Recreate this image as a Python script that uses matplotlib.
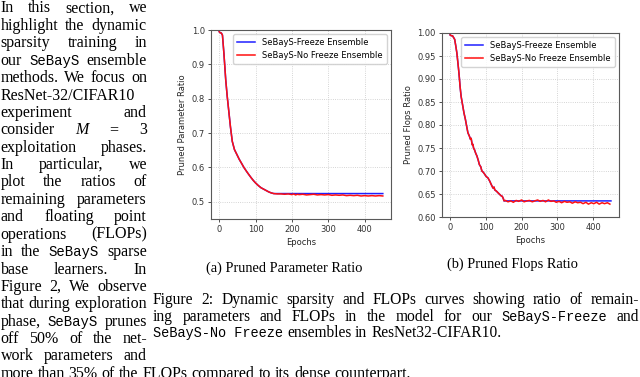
import matplotlib
matplotlib.use('Agg')
import matplotlib.pyplot as plt
from matplotlib.font_manager import FontProperties

# ---------------- data ----------------
epoch_ticks = [0, 100, 200, 300, 400]
param_yticks = [0.5, 0.6, 0.7, 0.8, 0.9, 1.0]
flops_yticks = [0.60, 0.65, 0.70, 0.75, 0.80, 0.85, 0.90, 0.95, 1.00]
legend_labels = ['SeBayS-Freeze Ensemble', 'SeBayS-No Freeze Ensemble']

# exploration phase (shared by both ensembles)
param_epochs_early = [0, 3, 6, 9, 13, 18, 22, 27, 31, 36, 42, 49, 55, 61, 68, 75, 81, 88,
                      94, 100, 108, 115, 122, 129, 136, 143, 150]
param_early = [0.995, 0.992, 0.991, 0.985, 0.932, 0.855, 0.808, 0.758, 0.718, 0.676, 0.652,
               0.637, 0.624, 0.613, 0.600, 0.589, 0.580, 0.570, 0.562, 0.555, 0.547, 0.541,
               0.537, 0.533, 0.529, 0.526, 0.524]
param_freeze_epochs = [150, 450]
param_freeze = [0.524, 0.524]
param_nofreeze_epochs = [150, 160, 170, 180, 190, 200, 205, 210, 215, 220, 230, 240, 250, 260,
                         270, 280, 290, 300, 310, 320, 330, 340, 350, 360, 370, 380, 390, 400,
                         410, 420, 430, 440, 450]
param_nofreeze = [0.524, 0.523, 0.523, 0.522, 0.523, 0.521, 0.523, 0.520, 0.522, 0.521, 0.522,
                  0.520, 0.521, 0.522, 0.520, 0.521, 0.520, 0.521, 0.519, 0.520, 0.519, 0.520,
                  0.518, 0.519, 0.518, 0.519, 0.517, 0.518, 0.517, 0.518, 0.517, 0.518, 0.517]

flops_epochs_early = [0, 4, 7, 10, 13, 16, 19, 22, 24, 26, 28, 31, 35, 39, 43, 47, 50, 54, 57,
                      59, 62, 64, 66, 68, 72, 75, 79, 82, 86, 89, 92, 96, 101, 106, 111, 115,
                      120, 123, 125, 130, 135, 139, 143, 146, 149, 151]
flops_early = [0.996, 0.994, 0.994, 0.990, 0.986, 0.972, 0.957, 0.935, 0.920, 0.903, 0.884,
               0.862, 0.844, 0.826, 0.812, 0.795, 0.783, 0.776, 0.769, 0.771, 0.757, 0.758,
               0.749, 0.747, 0.738, 0.733, 0.723, 0.714, 0.709, 0.700, 0.698, 0.694, 0.688,
               0.685, 0.678, 0.671, 0.663, 0.665, 0.659, 0.656, 0.652, 0.649, 0.646, 0.645,
               0.640, 0.635]
flops_freeze_epochs = [151, 450]
flops_freeze = [0.635, 0.635]
flops_nofreeze_epochs = [151, 155, 162, 170, 177, 185, 192, 200, 207, 215, 222, 230, 237, 245,
                         252, 260, 267, 275, 282, 290, 297, 305, 312, 320, 327, 335, 342, 350,
                         357, 365, 372, 380, 387, 395, 402, 410, 417, 425, 432, 440, 447]
flops_nofreeze = [0.635, 0.636, 0.633, 0.635, 0.632, 0.636, 0.634, 0.637, 0.633, 0.635, 0.636,
                  0.633, 0.635, 0.637, 0.634, 0.636, 0.633, 0.637, 0.634, 0.635, 0.632, 0.634,
                  0.631, 0.634, 0.632, 0.633, 0.630, 0.633, 0.631, 0.632, 0.629, 0.632, 0.628,
                  0.631, 0.629, 0.632, 0.628, 0.631, 0.629, 0.631, 0.628]

# ---------------- text ----------------
J = 147  # right edge of the justified left column (px)
body_lines = [
    ("In this section, we", J),
    ("highlight the dynamic", J),
    ("sparsity training in", J),
    ("our |SeBayS| ensemble", J),
    ("methods. We focus on", J),
    ("ResNet-32/CIFAR10", None),
    ("experiment and", J),
    ("consider ~M~ = 3", J),
    ("exploitation phases.", J),
    ("In particular, we", J),
    ("plot the ratios of", J),
    ("remaining parameters", J),
    ("and floating point", J),
    ("operations (FLOPs)", J),
    ("in the |SeBayS| sparse", J),
    ("base learners. In", J),
    ("Figure 2, We observe", J),
    ("that during exploration", J),
    ("phase, |SeBayS| prunes", J),
    ("off 50% of the net-", J),
    ("work parameters and", J),
    ("more than 35% of the FLOPs compared to its dense counterpart.", None),
]
caption_lines = [
    ("Figure 2: Dynamic sparsity and FLOPs curves showing ratio of remain-", 639),
    ("ing parameters and FLOPs in the model for our |SeBayS-Freeze| and", 639),
    ("|SeBayS-No Freeze| ensembles in ResNet32-CIFAR10.", None),
]
sub_a = "(a) Pruned Parameter Ratio"
sub_b = "(b) Pruned Flops Ratio"

# ---------------- figure ----------------
W, H = 640, 377
fig = plt.figure(figsize=(6.4, 3.77), dpi=100)
fig.patch.set_facecolor('white')
renderer = fig.canvas.get_renderer()
SERIF = 'Liberation Serif'
MONO = 'Liberation Mono'
MONO_SCALE = 0.88


def fprop(style, size):
    if style == 'tt':
        return FontProperties(family=MONO, size=size * MONO_SCALE)
    if style == 'it':
        return FontProperties(family=SERIF, style='italic', size=size)
    return FontProperties(family=SERIF, size=size)


def parse(s):
    words = [[]]
    style = 'rm'
    buf = ''
    for ch in s:
        if ch in '|~':
            if buf:
                words[-1].append((buf, style))
                buf = ''
            new = 'tt' if ch == '|' else 'it'
            style = 'rm' if style == new else new
        elif ch == ' ' and style != 'tt':
            if buf:
                words[-1].append((buf, style))
                buf = ''
            if words[-1]:
                words.append([])
        else:
            buf += ch
    if buf:
        words[-1].append((buf, style))
    if not words[-1]:
        words.pop()
    return words


def measure(txt, f):
    t = fig.text(0, 0, txt, fontproperties=f)
    w = t.get_window_extent(renderer=renderer).width
    t.remove()
    return w


def draw_line(s, x0, y, size, target=None):
    wl = []
    for w in parse(s):
        pieces = []
        tot = 0
        for txt, st in w:
            f = fprop(st, size)
            wd = measure(txt, f)
            pieces.append((txt, f, wd))
            tot += wd
        wl.append((pieces, tot))
    em = size * 100 / 72
    sp = 0.25 * em
    total = sum(t for _, t in wl)
    nat = total + sp * (len(wl) - 1)
    if target is not None and len(wl) > 1 and nat < target - x0:
        sp = (target - x0 - total) / (len(wl) - 1)
    x = x0
    for pieces, tot in wl:
        for txt, f, wd in pieces:
            fig.text(x / W, 1 - y / H, txt, fontproperties=f, va='baseline', ha='left',
                     color='black')
            x += wd
        x += sp


BODY_SIZE = 11.5
for i, (s, tgt) in enumerate(body_lines):
    draw_line(s, 0.5, 12.5 + 17.4 * i, BODY_SIZE, tgt)

CAP_SIZE = 11.2
for i, (s, tgt) in enumerate(caption_lines):
    draw_line(s, 153, 304 + 16.7 * i, CAP_SIZE, tgt)

fig.text(284 / W, 1 - 272 / H, sub_a, fontproperties=fprop('rm', 10.4), ha='center',
         va='baseline')
fig.text(512 / W, 1 - 268 / H, sub_b, fontproperties=fprop('rm', 10.4), ha='center',
         va='baseline')

# ---------------- charts ----------------
ax1 = fig.add_axes([211 / W, 1 - 219 / H, 180 / W, 189 / H])
ax2 = fig.add_axes([442 / W, 1 - 217 / H, 177 / W, 184 / H])

BLUE = '#1f1fff'
RED = '#ff1010'


def style_axes(ax):
    ax.grid(True, linestyle=':', linewidth=0.6, color='0.78')
    ax.set_axisbelow(True)
    for sp in ax.spines.values():
        sp.set_color('0.35')
        sp.set_linewidth(0.8)
    ax.tick_params(labelsize=6, length=2.5, width=0.6, pad=2, colors='0.2')
    ax.set_xticks(epoch_ticks)


ax1.plot(param_epochs_early + param_freeze_epochs, param_early + param_freeze, color=BLUE,
         lw=1.1, label=legend_labels[0])
ax1.plot(param_epochs_early + param_nofreeze_epochs, param_early + param_nofreeze, color=RED,
         lw=1.1, label=legend_labels[1])
style_axes(ax1)
ax1.set_ylim(0.45, 1.0)
ax1.set_yticks(param_yticks)
ax1.set_yticklabels([f'{v:.1f}' for v in param_yticks])
ax1.set_ylabel('Pruned Parameter Ratio', fontsize=6, labelpad=3, color='0.15')
ax1.set_xlabel('Epochs', fontsize=6, labelpad=2.5, color='0.15')
ax1.legend(loc='upper right', fontsize=6, handlelength=2.2, framealpha=0.85,
           borderpad=0.5, labelspacing=0.4)

ax2.plot(flops_epochs_early + flops_freeze_epochs, flops_early + flops_freeze, color=BLUE,
         lw=1.1, label=legend_labels[0])
ax2.plot(flops_epochs_early + flops_nofreeze_epochs, flops_early + flops_nofreeze, color=RED,
         lw=1.1, label=legend_labels[1])
style_axes(ax2)
ax2.set_ylim(0.60, 1.00)
ax2.set_yticks(flops_yticks)
ax2.set_yticklabels([f'{v:.2f}' for v in flops_yticks])
ax2.set_ylabel('Pruned Flops Ratio', fontsize=6, labelpad=3, color='0.15')
ax2.set_xlabel('Epochs', fontsize=6, labelpad=2.5, color='0.15')
ax2.legend(loc='upper right', fontsize=6, handlelength=2.2, framealpha=0.85,
           borderpad=0.5, labelspacing=0.4)

fig.savefig('out.png', dpi=100, facecolor='white')
